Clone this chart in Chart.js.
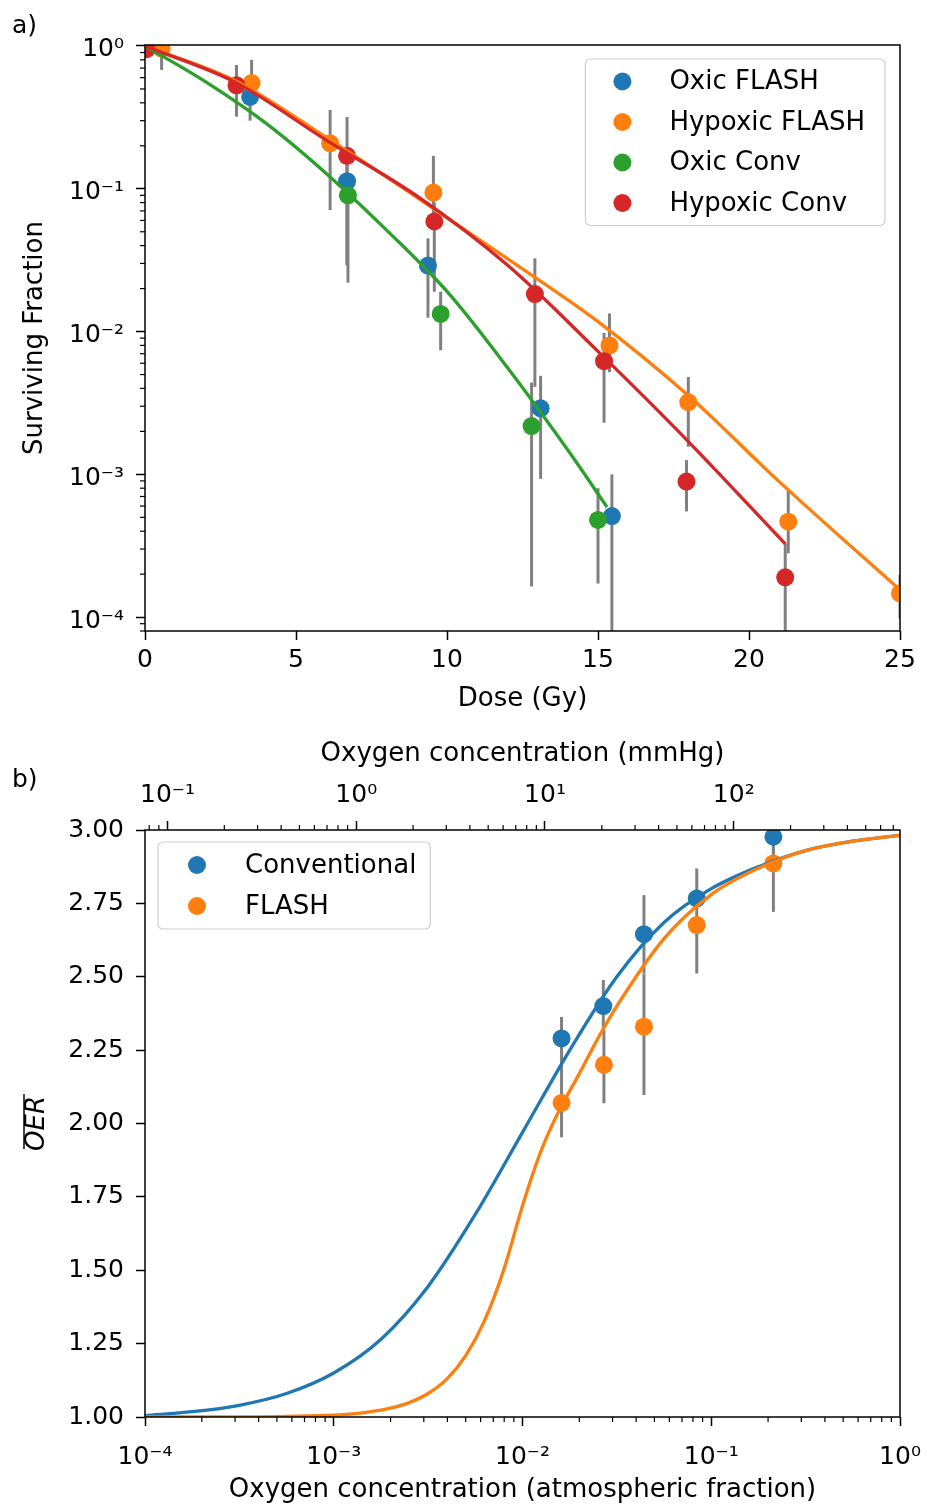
<!DOCTYPE html>
<html lang="pt-BR">
<head>
<meta charset="utf-8">
<title>Fração de sobrevivência e OER</title>
<script src="https://cdn.jsdelivr.net/npm/chart.js@4.4.1/dist/chart.umd.min.js"></script>
<style>
  html, body { margin: 0; padding: 0; background: #fff; }
  #pagina { position: relative; width: 927px; height: 1510px; font-family: "DejaVu Sans", sans-serif; }
  canvas { position: absolute; left: 0; }
  .rotulo { position: absolute; left: 12px; font-size: 25px; line-height: 1; color: #000; }
</style>
</head>
<body>
<div id="pagina">
  <canvas id="graficoSobrevivencia" width="927" height="725" style="top:0"></canvas>
  <canvas id="graficoOER" width="927" height="785" style="top:725px"></canvas>
  <div class="rotulo" style="top:12px">a)</div>
  <div class="rotulo" style="top:766px">b)</div>
</div>
<script>
// ===== dados =====

// a) fração de sobrevivência x dose
const doseTicks = [0, 5, 10, 15, 20, 25];
const survTicks = [1e-4, 1e-3, 1e-2, 1e-1, 1];

const oxicFlashDose = [0, 3.48, 6.69, 9.37, 13.1, 15.46];
const oxicFlashSF   = [1.0, 0.44, 0.113, 0.029, 0.0029, 0.00051];
const oxicFlashLo   = [1.0, 0.30, 0.03, 0.0125, 0.00093, 0.00005];
const oxicFlashHi   = [1.0, 0.55, 0.15, 0.045, 0.0049, 0.001];

const hypFlashDose = [0.55, 3.53, 6.13, 9.55, 15.38, 17.99, 21.3, 25.0];
const hypFlashSF   = [0.96, 0.55, 0.208, 0.094, 0.0080, 0.0032, 0.000466, 0.000147];
const hypFlashLo   = [0.68, 0.45, 0.071, 0.06, 0.0052, 0.00156, 0.00028, 0.0000978];
const hypFlashHi   = [0.94, 0.80, 0.356, 0.17, 0.0134, 0.0048, 0.00078, 0.000197];

const oxicConvDose = [0, 6.72, 9.79, 12.8, 15.0];
const oxicConvSF   = [1.0, 0.090, 0.0133, 0.00218, 0.00048];
const oxicConvLo   = [1.0, 0.022, 0.0074, 0.000164, 0.000172];
const oxicConvHi   = [1.0, 0.12, 0.019, 0.0044, 0.00080];

const hypConvDose = [0.05, 3.03, 6.69, 9.58, 12.91, 15.2, 17.93, 21.2];
const hypConvSF   = [0.95, 0.53, 0.17, 0.059, 0.0183, 0.0062, 0.00089, 0.00019];
const hypConvLo   = [0.90, 0.32, 0.029, 0.019, 0.0041, 0.0023, 0.00055, 0.00005];
const hypConvHi   = [1.0, 0.736, 0.318, 0.08, 0.0326, 0.0098, 0.00126, 0.00033];

// curvas de ajuste (lidas ao longo das linhas)
const oxicFitDose = [0, 2, 4, 6, 8, 10, 12, 14, 15.3];
const oxicFitSF   = [1.0, 0.562, 0.288, 0.128, 0.0513, 0.0191, 0.0056, 0.00148, 0.00059];
const hypFlashFitDose = [0, 3, 6, 9, 12, 15, 18, 21, 25];
const hypFlashFitSF   = [1.0, 0.569, 0.229, 0.0871, 0.0324, 0.01175, 0.00355, 0.00089, 0.000155];
const hypConvFitDose = [0, 3, 6, 9, 12, 15, 18, 21.2];
const hypConvFitSF   = [1.0, 0.556, 0.219, 0.0891, 0.0292, 0.00726, 0.00169, 0.000326];

// b) OER x concentração de oxigênio
const fracTicks = [1e-4, 1e-3, 1e-2, 1e-1, 1];
const mmHgTicks = [0.1, 1, 10, 100];
const oerTicks  = [1.00, 1.25, 1.50, 1.75, 2.00, 2.25, 2.50, 2.75, 3.00];

const convO2  = [0.0161, 0.0268, 0.0440, 0.0838, 0.2134];
const convOER = [2.29, 2.40, 2.645, 2.767, 2.977];
const convLo  = [2.17, 2.31, 2.511, 2.727, 2.90];
const convHi  = [2.363, 2.489, 2.778, 2.869, 3.05];

const flashO2  = [0.0161, 0.0270, 0.0440, 0.0838, 0.2134];
const flashOER = [2.07, 2.20, 2.33, 2.676, 2.886];
const flashLo  = [1.953, 2.069, 2.097, 2.511, 2.721];
const flashHi  = [2.20, 2.318, 2.51, 2.727, 2.96];

const convFitO2  = [1e-4, 1.78e-4, 3.16e-4, 5.62e-4, 1e-3, 1.78e-3, 3.16e-3, 5.62e-3, 1e-2, 1.78e-2,
                    3.16e-2, 5.62e-2, 1e-1, 1.78e-1, 3.16e-1, 5.62e-1, 1];
const convFitOER = [1.005, 1.018, 1.04, 1.08, 1.15, 1.265, 1.445, 1.69, 1.97, 2.25,
                    2.50, 2.685, 2.80, 2.875, 2.93, 2.962, 2.982];
const flashFitO2  = [1e-4, 3.16e-4, 5.62e-4, 1e-3, 1.26e-3, 1.58e-3, 2.0e-3, 2.51e-3, 3.16e-3, 3.98e-3,
                     5.01e-3, 6.31e-3, 7.94e-3, 1e-2, 1.26e-2, 1.58e-2, 2.0e-2, 2.51e-2, 3.16e-2,
                     5.62e-2, 1e-1, 1.78e-1, 3.16e-1, 5.62e-1, 1];
const flashFitOER = [1.00, 1.00, 1.002, 1.006, 1.0105, 1.018, 1.030, 1.049, 1.08, 1.13,
                     1.21, 1.33, 1.50, 1.72, 1.91, 2.05, 2.17, 2.29, 2.40,
                     2.63, 2.78, 2.87, 2.93, 2.962, 2.982];

// ===== estilo =====
Chart.defaults.font.family = '"DejaVu Sans", sans-serif';
Chart.defaults.font.size = 25;
Chart.defaults.color = '#000';
Chart.defaults.animation = false;

const AZUL = '#1f77b4', LARANJA = '#ff7f0e', VERDE = '#2ca02c', VERMELHO = '#d62728';
const CINZA = '#808080';
const FONTE_TEXTO = { family: '"DejaVu Sans", sans-serif', size: 26 };

const SUP = { '-': '⁻', '0': '⁰', '1': '¹', '2': '²', '3': '³', '4': '⁴', '5': '⁵', '6': '⁶', '7': '⁷', '8': '⁸', '9': '⁹' };
function potenciaDeDez(valor) {
    const exp = Math.round(Math.log10(valor));
    return '10' + String(exp).split('').map(c => SUP[c]).join('');
}

function pontos(xs, ys) {
    return xs.map((x, i) => ({ x: x, y: ys[i] }));
}

function seriePontos(rotulo, cor, xs, ys, lo, hi, ordem) {
    return {
        label: rotulo,
        naLegenda: true,
        data: pontos(xs, ys),
        errLo: lo,
        errHi: hi,
        backgroundColor: cor,
        borderColor: cor,
        borderWidth: 0,
        pointRadius: 9,
        pointHoverRadius: 9,
        showLine: false,
        clip: 0,
        order: ordem
    };
}

function serieAjuste(cor, xs, ys, ordem) {
    return {
        label: '',
        data: pontos(xs, ys),
        borderColor: cor,
        backgroundColor: cor,
        borderWidth: 3.3,
        pointRadius: 0,
        pointHoverRadius: 0,
        showLine: true,
        fill: false,
        cubicInterpolationMode: 'monotone',
        clip: 0,
        order: ordem
    };
}

// eixo com tiques fixos, sem grade dentro da área
function eixo(posicao, tipo, min, max, lista, rotulo, extras) {
    return {
        type: tipo,
        position: posicao,
        min: min,
        max: max,
        bounds: 'data',
        border: { display: false },
        grid: { drawOnChartArea: false, drawTicks: true, tickLength: 9, tickWidth: 1.5, tickColor: '#000', color: '#000' },
        ticks: {
            color: '#000',
            autoSkip: false,
            maxRotation: 0,
            minRotation: 0,
            padding: extras.pad,
            labelOffset: extras.deslocamento || 0,
            callback: extras.formato
        },
        title: {
            display: !!rotulo,
            text: rotulo,
            color: '#000',
            font: FONTE_TEXTO,
            padding: extras.padTitulo
        },
        afterBuildTicks: (escala) => { escala.ticks = lista.map(v => ({ value: v })); },
        afterFit: (escala) => {
            if (extras.largura) escala.width = extras.largura;
            if (extras.altura) escala.height = extras.altura;
            // rótulos das pontas não devem encolher a área do gráfico
            if (escala.isHorizontal()) { escala.paddingLeft = 0; escala.paddingRight = 0; }
        }
    };
}

// ===== plugins =====
const pluginBarrasErro = {
    id: 'barrasErro',
    beforeDatasetsDraw(chart) {
        const { ctx, chartArea: a } = chart;
        const sx = chart.scales.x, sy = chart.scales.y;
        ctx.save();
        ctx.beginPath();
        ctx.rect(a.left, a.top, a.width, a.height);
        ctx.clip();
        ctx.strokeStyle = CINZA;
        ctx.lineWidth = 3;
        chart.data.datasets.forEach(ds => {
            if (!ds.errLo) return;
            ds.data.forEach((p, i) => {
                const x = sx.getPixelForValue(p.x);
                ctx.beginPath();
                ctx.moveTo(x, sy.getPixelForValue(ds.errLo[i]));
                ctx.lineTo(x, sy.getPixelForValue(ds.errHi[i]));
                ctx.stroke();
            });
        });
        ctx.restore();
    }
};

const pluginMoldura = {
    id: 'moldura',
    afterDatasetsDraw(chart) {
        const { ctx, chartArea: a } = chart;
        ctx.save();
        ctx.strokeStyle = '#000';
        // tiques menores nos eixos log
        ctx.lineWidth = 1.2;
        Object.values(chart.scales).forEach(escala => {
            if (escala.type !== 'logarithmic') return;
            const e0 = Math.floor(Math.log10(escala.min));
            const e1 = Math.ceil(Math.log10(escala.max));
            for (let e = e0; e < e1; e++) {
                for (let k = 2; k <= 9; k++) {
                    const v = k * Math.pow(10, e);
                    if (v < escala.min || v > escala.max) continue;
                    const p = escala.getPixelForValue(v);
                    ctx.beginPath();
                    if (escala.position === 'left') { ctx.moveTo(a.left, p); ctx.lineTo(a.left - 5, p); }
                    else if (escala.position === 'bottom') { ctx.moveTo(p, a.bottom); ctx.lineTo(p, a.bottom + 5); }
                    else if (escala.position === 'top') { ctx.moveTo(p, a.top); ctx.lineTo(p, a.top - 5); }
                    ctx.stroke();
                }
            }
        });
        ctx.lineWidth = 1.5;
        ctx.strokeRect(a.left, a.top, a.width, a.height);
        ctx.restore();
    }
};

const pluginLegenda = {
    id: 'legendaInterna',
    afterDraw(chart, args, opts) {
        const itens = chart.data.datasets.filter(d => d.naLegenda);
        if (!itens.length || !opts.passo) return;
        const { ctx, chartArea: a } = chart;
        ctx.save();
        ctx.font = FONTE_TEXTO.size + 'px ' + FONTE_TEXTO.family;
        const largura = opts.textoX + Math.max(...itens.map(d => ctx.measureText(d.label).width)) + opts.folga;
        const altura = 2 * opts.margem + opts.passo * (itens.length - 1);
        const x0 = opts.lado === 'direita' ? a.right - opts.dx - largura : a.left + opts.dx;
        const y0 = a.top + opts.dy;

        ctx.beginPath();
        ctx.roundRect(x0, y0, largura, altura, 5);
        ctx.fillStyle = 'rgba(255,255,255,0.8)';
        ctx.fill();
        ctx.strokeStyle = '#d0d0d0';
        ctx.lineWidth = 1.2;
        ctx.stroke();

        ctx.textBaseline = 'middle';
        ctx.textAlign = 'left';
        itens.forEach((d, i) => {
            const y = y0 + opts.margem + i * opts.passo;
            ctx.beginPath();
            ctx.arc(x0 + opts.marcaX, y, 9, 0, Math.PI * 2);
            ctx.fillStyle = d.backgroundColor;
            ctx.fill();
            ctx.fillStyle = '#000';
            ctx.fillText(d.label, x0 + opts.textoX, y + 1);
        });
        ctx.restore();
    }
};

// título do eixo y do painel b: OER com barra em cima
const pluginTituloOER = {
    id: 'tituloOER',
    afterDraw(chart, args, opts) {
        if (!opts.texto) return;
        const { ctx, chartArea: a } = chart;
        ctx.save();
        ctx.translate(opts.x, (a.top + a.bottom) / 2);
        ctx.rotate(-Math.PI / 2);
        ctx.font = 'italic ' + FONTE_TEXTO.size + 'px ' + FONTE_TEXTO.family;
        ctx.fillStyle = '#000';
        ctx.textAlign = 'center';
        ctx.textBaseline = 'middle';
        ctx.fillText(opts.texto, 0, 0);
        const w = ctx.measureText(opts.texto).width;
        ctx.strokeStyle = '#000';
        ctx.lineWidth = 1.5;
        ctx.beginPath();
        ctx.moveTo(-w / 2 + 2, -13);
        ctx.lineTo(w / 2 + 2, -13);
        ctx.stroke();
        ctx.restore();
    }
};

// ===== a) sobrevivência =====
new Chart(document.getElementById('graficoSobrevivencia'), {
    type: 'scatter',
    data: {
        datasets: [
            serieAjuste(VERMELHO, hypConvFitDose, hypConvFitSF, 0),
            serieAjuste(VERDE, oxicFitDose, oxicFitSF, 1),
            serieAjuste(LARANJA, hypFlashFitDose, hypFlashFitSF, 2),
            seriePontos('Oxic FLASH', AZUL, oxicFlashDose, oxicFlashSF, oxicFlashLo, oxicFlashHi, 13),
            seriePontos('Hypoxic FLASH', LARANJA, hypFlashDose, hypFlashSF, hypFlashLo, hypFlashHi, 12),
            seriePontos('Oxic Conv', VERDE, oxicConvDose, oxicConvSF, oxicConvLo, oxicConvHi, 11),
            seriePontos('Hypoxic Conv', VERMELHO, hypConvDose, hypConvSF, hypConvLo, hypConvHi, 10)
        ]
    },
    options: {
        responsive: false,
        animation: false,
        events: [],
        layout: { padding: { top: 45, right: 27, left: 0, bottom: 0 } },
        scales: {
            x: eixo('bottom', 'linear', 0, 25, doseTicks, 'Dose (Gy)', {
                pad: 5, altura: 94, padTitulo: { top: 0, bottom: 10 },
                formato: (v) => String(v)
            }),
            y: eixo('left', 'logarithmic', 8e-5, 1.016, survTicks, 'Surviving Fraction', {
                pad: 12, largura: 145, deslocamento: 4, padTitulo: { top: 20, bottom: 0 },
                formato: (v) => potenciaDeDez(v)
            })
        },
        plugins: {
            legend: { display: false },
            tooltip: { enabled: false },
            legendaInterna: { lado: 'direita', dx: 15, dy: 14, margem: 22.5, passo: 40.5, marcaX: 37, textoX: 84, folga: 20 }
        }
    },
    plugins: [pluginBarrasErro, pluginMoldura, pluginLegenda]
});

// ===== b) OER =====
new Chart(document.getElementById('graficoOER'), {
    type: 'scatter',
    data: {
        datasets: [
            serieAjuste(LARANJA, flashFitO2, flashFitOER, 0),
            serieAjuste(AZUL, convFitO2, convFitOER, 1),
            seriePontos('Conventional', AZUL, convO2, convOER, convLo, convHi, 11),
            seriePontos('FLASH', LARANJA, flashO2, flashOER, flashLo, flashHi, 10)
        ]
    },
    options: {
        responsive: false,
        animation: false,
        events: [],
        layout: { padding: { top: 0, right: 27, left: 0, bottom: 0 } },
        scales: {
            x: eixo('bottom', 'logarithmic', 1e-4, 1, fracTicks, 'Oxygen concentration (atmospheric fraction)', {
                pad: 16, altura: 93, padTitulo: { top: 0, bottom: 4 },
                formato: (v) => potenciaDeDez(v)
            }),
            x2: eixo('top', 'logarithmic', 0.076, 760, mmHgTicks, 'Oxygen concentration (mmHg)', {
                pad: 11, altura: 105, padTitulo: { top: 14, bottom: 0 },
                formato: (v) => potenciaDeDez(v)
            }),
            y: eixo('left', 'linear', 1, 3, oerTicks, '', {
                pad: 12, largura: 145, padTitulo: 0,
                formato: (v) => v.toFixed(2)
            })
        },
        plugins: {
            legend: { display: false },
            tooltip: { enabled: false },
            legendaInterna: { lado: 'esquerda', dx: 13, dy: 12, margem: 23, passo: 41, marcaX: 39, textoX: 87, folga: 14 },
            tituloOER: { texto: 'OER', x: 37 }
        }
    },
    plugins: [pluginBarrasErro, pluginMoldura, pluginLegenda, pluginTituloOER]
});
</script>
</body>
</html>
